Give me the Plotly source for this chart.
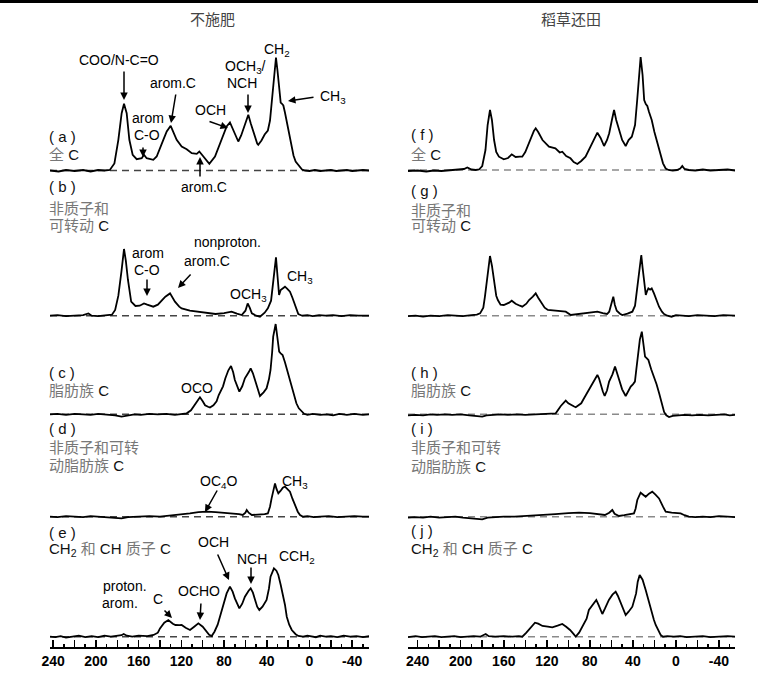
import plotly.graph_objects as go

W, H = 758, 679

# ---------------- data: chemical shift (ppm) and signal height ----------------
# (a) 不施肥 全C
a_ppm = [243, 235, 228, 220, 212, 205, 198, 192, 187, 182.7, 179, 175.9, 173.7, 171.2, 168.7, 165.6, 161.8, 157.1, 155, 152.5, 146.3,
         143.1, 136.9, 133.7, 130, 124.4, 119.7, 115, 110.3, 105.6, 103.2, 99.4, 93.8, 88.5, 82.3, 77.6, 74.5, 72, 69, 66.7, 64,
         61, 59, 57.3, 55, 52, 49, 48, 45, 42, 39, 37, 35, 33, 31.4, 30, 28.5, 27, 26, 24.5, 23,
         21, 19, 17, 15, 13, 11, 9, 7, 4, 0, -5, -10, -15, -20, -25, -30, -35, -40, -45, -50, -56]
a_int = [0, -1, 0.5, -0.5, 0.5, -1, 0.5, 0, 0.5, 7, 30.7, 57.3, 66.7, 57.3, 30.7, 15.7, 11.3, 12.3, 15.7, 12.3, 10.7,
         14, 30.7, 39, 44.7, 30.7, 24, 21.3, 17.3, 16.7, 19, 14, 6.7, 14, 30.7, 44, 48, 42, 33, 29, 35,
         45, 52, 55.7, 47, 36, 27, 25.7, 30, 36, 40, 50, 75, 100, 113, 100, 80, 68, 67, 65, 58,
         47, 36, 24, 15, 9, 6, 3, 1, 0, -0.5, 0.5, -0.5, 0, 0.5, -0.5, 0, 0.5, -0.5, 0, 0.5, 0]

# (b) 不施肥 非质子和可转动C
b_ppm = [243, 236, 228, 220, 212, 207, 204, 198, 190, 185, 182, 179, 176, 173.7, 172, 170, 167, 163, 159, 155,
         152, 146.3, 142, 139, 135, 130.6, 128, 126, 122, 119.7, 112, 102.6, 95, 88, 80, 73, 68, 63.5, 60, 57.9,
         56, 54, 50, 46.4, 42, 39, 36, 34, 32.5, 31.4, 30, 28.5, 27, 25, 23, 21, 18.3, 16, 14, 12,
         10.5, 7, 2, -3, -9, -15, -22, -30, -38, -46, -56]
b_int = [0, 0.5, -0.5, 0, 0.5, 2.3, 0, -0.5, 0.5, 1, 5.7, 20, 45, 66.7, 55, 35.7, 14, 9.7, 10, 12.3,
         11, 9, 11, 14, 19, 22.3, 18, 14, 9, 7.3, 5, 4, 2.5, 1.7, 2.5, 4, 2, 0.7, 5, 12.3,
         8, 2.3, 0, -1, 3, 7.3, 15, 32.3, 50, 58.3, 40, 20.7, 25.7, 27, 29, 27, 24, 18, 12.3, 5,
         1.7, 0, 0.5, -0.5, 0.5, 0, 0.5, -0.5, 0.5, 0, 0]

# (c) 不施肥 脂肪族C
c_ppm = [243, 236, 228, 220, 212, 205, 198, 190, 182, 176, 170, 164, 158, 150, 142, 134, 126, 120, 115, 111,
         108, 104.5, 102.6, 100, 97.8, 95, 93.2, 90, 87, 85, 81, 78.8, 76, 73.5, 71.5, 69.9, 68, 65.7, 63, 60.5,
         57, 55.1, 53, 51, 49, 46.4, 43, 40.2, 38, 36.5, 35, 34, 31.7, 30, 28.4, 27, 25.2, 23, 21, 19,
         17, 14, 12.3, 10, 7.3, 5, 2, -3, -10, -16, -22, -28, -35, -42, -50, -56]
c_int = [0, 0.5, -0.5, 0.5, 0, -0.5, 0.5, 0, -1, -2.3, -1, 0, -0.5, 0.5, 0, 0.5, -0.5, 0, 1, 4,
         9, 15, 17, 13, 9, 7.5, 6.7, 9, 13, 19.3, 28, 36, 44, 48.3, 42, 34.3, 28, 22.7, 28, 36,
         42, 46, 41, 34.3, 27, 18.3, 22, 26, 35, 44.3, 62, 77.7, 90.3, 78, 62.7, 61, 59.3, 52, 44.3, 38,
         31, 20, 11, 6, 2.7, 0.5, -0.5, 0.5, -0.5, 0, -1, 0.5, -0.5, 0.5, -0.5, 0]

# (d) 不施肥 非质子和可转动脂肪族C
d_ppm = [243, 236, 228, 220, 212, 205, 198, 190, 182, 176, 170, 160, 150, 140, 130, 120, 112, 104, 96, 88,
         80, 72, 66, 62.5, 60, 58.8, 57, 54, 48, 42, 39, 37, 35.5, 33.5, 32.3, 31, 29.2, 27, 25, 23,
         20, 18.3, 16, 13.6, 11, 8.9, 6, 2, -4, -10, -18, -26, -34, -42, -50, -56]
d_int = [0, -0.5, 0.5, 0, -0.5, 0.5, 0, -0.5, -1, -1.7, -0.5, 0, 0.5, 0, 1, 2, 3.3, 4.5, 5, 4.5,
         4, 3.3, 2.5, 1.7, 4, 6.7, 4, 1.7, 2, 2.5, 3.3, 10, 18.3, 30, 33.3, 28, 23.3, 26, 29, 30,
         27, 25, 18, 11.7, 5, 1.7, 0, 0.5, -0.5, 0, 0.5, -0.5, 0, 0.5, 0, 0]

# (e) 不施肥 CH2和CH质子C
e_ppm = [243, 238, 233, 228, 222, 216, 210, 204, 198, 192, 186, 180, 176, 174, 171, 166, 160, 152, 146, 142,
         140, 136, 132.2, 128, 125.5, 122, 119.7, 116, 111.9, 108, 104.1, 100, 97.8, 94, 91.6, 89, 86, 83.8, 80, 77.6,
         74.5, 72, 69.9, 68, 65.7, 63, 60.5, 57, 55.1, 53, 51, 49, 47, 44, 40.2, 38, 36.5, 33.3, 31, 29.2,
         27, 25, 23, 21.3, 19, 16.6, 13, 10.5, 6, 2, -2, -6, -10, -15, -20, -26, -32, -38, -44, -50, -56]
e_int = [0, -0.5, 0.5, -1, 0, 1, -0.5, 0.5, -0.5, 1, 0, 0.5, 1.5, 2.7, 1, 0, 1, 0.5, 1.7, 4,
         8.3, 14, 16.7, 13, 11.7, 11.5, 11.7, 9, 6.7, 10, 13.3, 10, 6.7, 2, 0.7, 5, 12, 20, 32, 43.3,
         50, 45, 38.3, 33, 28.3, 33, 40, 46, 48.3, 44, 36.7, 30, 26.7, 30, 36.7, 48, 60, 68.3, 66, 61.7,
         52, 43.3, 32, 20, 12, 6.7, 2.5, 0.7, 0, 1, 0, -0.5, 1, 0, 0.5, -0.5, 1, 0, 0.5, -0.5, 0.5]

# (f) 稻草还田 全C
f_ppm = [249, 240, 232, 225, 218, 210, 203, 197, 193.9, 190, 186, 183, 180, 177, 175, 172.8, 171, 169, 167, 164.5,
         160, 156, 152.6, 149, 145, 142.8, 140, 138, 135, 132, 130.3, 128, 124, 118, 112, 108, 105.6, 102, 98, 95,
         91.6, 88, 84, 81, 78, 76, 73, 70, 66.8, 64, 62, 59.5, 57.5, 55.5, 53, 50, 46.7, 44, 41, 38,
         36, 34, 32.8, 31, 29.5, 28, 26.6, 25, 22.5, 20, 17, 14, 12, 9.5, 7, 3, -1, -4, -5.9, -8,
         -12, -18, -25, -32, -40, -48, -55]
f_int = [-1, -0.5, -1.5, -0.5, -1, -0.5, 0, 1, 2.5, 0.5, 0, 0.5, 4, 20, 45, 60, 50, 30, 18, 13.3,
         10.7, 12, 15.7, 13, 13.3, 13.3, 18, 23, 32, 39, 41.7, 38, 30, 23.3, 21.7, 17.5, 18.3, 14, 11.7, 8,
         6, 9, 13.3, 20, 25, 30, 37.3, 32, 24, 30, 36.7, 50, 60, 50, 40, 30, 24, 30, 33.3, 45,
         70, 100, 113, 95, 70, 66, 64, 58, 50, 38, 26.7, 15, 6.7, 1.5, 0, -0.5, 0, 1.5, 4, 1,
         0, -0.5, 0.5, -0.5, 0, 0.5, -0.5]

# (g) 稻草还田 非质子和可转动C
g_ppm = [249, 242, 235, 228, 220, 212, 205, 198, 190, 185, 182, 179, 177.5, 175, 172.8, 171, 169, 167, 165.5, 163,
         160, 155, 152.6, 149, 145, 142.8, 139, 136.5, 133, 130.3, 128, 125.7, 122, 119, 110, 102.4, 97.7, 92, 87, 80,
         73, 68, 64, 62, 60, 58.2, 56.8, 55, 52, 49.8, 45, 40.5, 38, 35.8, 34, 32.2, 31, 29.7, 28, 27,
         25.6, 24, 22.5, 20.4, 18, 15.7, 13, 11, 8, 4, 0, -6, -12, -20, -28, -36, -44, -52, -55]
g_int = [-0.5, 0, -1, 0, -0.5, 0.5, 0, -0.5, 0.5, 1, 2.3, 8, 19, 40, 59.7, 50, 35.7, 20, 15.7, 11,
         10.7, 13, 15, 12, 10, 9, 12, 15.7, 19, 22.3, 18, 14, 8, 5.7, 4.5, 4, 0.7, 1.5, 2.3, 3,
         4, 2.5, 1.7, 4, 11, 19, 11, 5, 2, 0.7, 2, 4, 10, 29, 45, 60.7, 48, 35.7, 20.7, 24,
         27.3, 26, 27.3, 22.3, 15, 9, 4, 1.7, 0, -1, 0.5, 0, -0.5, 0.5, 0, -0.5, 0.5, 0, 0]

# (h) 稻草还田 脂肪族C
h_ppm = [249, 242, 235, 228, 222, 215, 208, 200, 192, 185, 180, 176, 170, 163, 156, 148, 140, 130, 120, 115,
         111.7, 107, 104, 102.4, 100, 97.7, 95, 93.1, 88, 85.4, 82, 79.2, 76, 73, 71.5, 69.8, 68, 66.2, 64, 62.1,
         59, 56.6, 55, 52.9, 50, 46.7, 44, 42, 40, 38.1, 36.8, 35, 33.5, 31.7, 30.5, 28.7, 27, 25.6, 23, 20.3,
         18, 15.6, 13.5, 11, 9, 6.4, 3, -2, -8, -15, -22, -30, -38, -45, -50, -55]
h_int = [-1, -0.5, -1, 0, -0.5, 0, -0.5, 0, -1, -1.5, -2.3, -1, -0.5, 0, -0.5, 0, -0.5, 0, 0.5, 0.5,
         1, 8.3, 12, 13.7, 11, 9.3, 8, 7, 11, 16, 22, 27.7, 34, 39.3, 36, 29.3, 23, 18.3, 24, 32.7,
         40, 47.7, 42, 32.7, 25, 18.3, 24, 27.7, 30, 32.7, 45, 61, 75, 82.7, 72, 57.7, 56, 54.3, 45, 37.7,
         30, 21, 11, 2.3, -1, -2.7, -1.5, -1, -0.5, -1, -0.5, -1, -0.5, 0, -1, -0.5]

# (i) 稻草还田 非质子和可转动脂肪族C
i_ppm = [249, 242, 235, 228, 220, 212, 205, 198, 190, 184, 180, 175, 168, 160, 150, 140, 130, 121, 112, 100,
         90, 80, 70, 66, 62, 59.1, 57, 52.9, 48, 42, 39, 37.5, 35.9, 32.8, 30, 28.1, 25, 22, 19, 15.7,
         12, 9.5, 4, -4.4, -8, -12, -18, -25, -32, -40, -48, -55]
i_int = [-1, -0.5, -1, 0, -1, -0.5, 0, -1, -1.5, -2, -2.7, -1, -0.5, 0, 0, 0.5, 1, 1.7, 2.5, 3.5,
         4, 3.5, 2.5, 1.7, 4, 6.7, 3, 0.7, 1.5, 2.5, 3.3, 8, 16.7, 24, 22, 20, 23, 25, 22, 18.3,
         10, 5, 4, 3.3, 1.5, 0, -0.5, 0, -0.5, 0.5, 0, -0.5]

# (j) 稻草还田 CH2和CH质子C
j_ppm = [249, 242, 236, 230, 224, 218, 212, 206, 200, 194, 188, 182, 178.5, 176.8, 174, 168, 160, 152, 146, 142.8,
         139, 135.5, 133, 131, 128, 124, 119, 114.9, 110, 105.6, 102, 98.4, 95, 93.1, 90, 87, 83, 80.9, 77, 74,
         72, 70, 68.4, 66, 62.3, 59, 56, 54, 51.7, 49, 46.7, 44, 40.5, 37, 35.5, 33.7, 31, 28.1, 25, 23.5,
         20.5, 18.8, 16, 14.2, 12, 8, 2, -4, -10, -18, -25, -32, -40, -48, -55]
j_int = [-0.5, 0.5, -0.5, 0, 0.5, -0.5, 0, 0.5, -0.5, 0, 0.5, 0, 2, 2.7, 0.5, 0, 0.5, 0, 0.5, 0,
         4, 8.3, 12, 14, 13, 10.7, 10, 9.3, 11, 12.7, 10, 6.7, 2.5, 0, 4, 10, 18, 26.7, 33, 36.7,
         32, 26, 22.7, 28, 36.7, 42, 45, 41, 35, 28, 21.7, 25, 30, 43.3, 55, 61.7, 57, 46.7, 34, 26.7,
         17, 11.7, 5, 1.7, 0, 0.5, 0, 0.5, -0.5, 0, 0.5, -0.5, 0, 0.5, 0]

# axis ticks
tick_vals = [240, 220, 200, 180, 160, 140, 120, 100, 80, 60, 40, 20, 0, -20, -40]
tick_text = ["240", "", "200", "", "160", "", "120", "", "80", "", "40", "", "0", "", "-40"]

col_titles = ["不施肥", "稻草还田"]

# ---------------- figure ----------------
SANS = "Liberation Sans, Arial, sans-serif"
LAB = "Liberation Sans, Noto Sans CJK SC, sans-serif"
CJK = "Noto Sans CJK SC, sans-serif"

spectra = [("a", a_ppm, a_int), ("b", b_ppm, b_int), ("c", c_ppm, c_int), ("d", d_ppm, d_int),
           ("e", e_ppm, e_int), ("f", f_ppm, f_int), ("g", g_ppm, g_int), ("h", h_ppm, h_int),
           ("i", i_ppm, i_int), ("j", j_ppm, j_int)]
# column, baseline (pixel row)
panel_pos = {"a": (0, 170.5), "b": (0, 315.7), "c": (0, 414.3), "d": (0, 516.7), "e": (0, 636.7),
             "f": (1, 170.0), "g": (1, 315.7), "h": (1, 414.3), "i": (1, 516.7), "j": (1, 636.7)}

fig = go.Figure()
for n, (key, xs, ys) in enumerate(spectra, start=1):
    assert len(xs) == len(ys), key
    col, base = panel_pos[key]
    xa = "x" if col == 0 else "x2"
    ya = "y" if n == 1 else f"y{n}"
    fig.add_trace(go.Scatter(x=xs, y=ys, xaxis=xa, yaxis=ya, mode="lines",
                             line=dict(color="black", width=1.8), hoverinfo="skip", showlegend=False))
    fig.update_layout(**{("yaxis" if n == 1 else f"yaxis{n}"): dict(
        domain=[1 - (base + 12) / H, 1 - (base - 128) / H], range=[-12, 128],
        visible=False, anchor=xa, fixedrange=True, automargin=False)})
    fig.add_shape(type="line", xref=f"{xa} domain", yref=ya, x0=0, x1=1, y0=0, y1=0, layer="below",
                  line=dict(color="#444" if col == 0 else "#8a8a8a", width=1.4, dash="7px,5px"))


def xaxis_cfg(px0, px1, rng):
    return dict(domain=[px0 / W, px1 / W], range=rng, anchor="free", position=1 - 648 / H,
                automargin=False,
                showline=True, linewidth=2, linecolor="black", showgrid=False, zeroline=False,
                ticks="inside", ticklen=7, tickwidth=1.5, tickcolor="black",
                tickmode="array", tickvals=tick_vals, ticktext=tick_text,
                tickfont=dict(family=SANS, size=14, color="black", weight="bold"),
                minor=dict(ticks="inside", ticklen=3, tickwidth=1.5, tickcolor="black",
                           tickmode="linear", tick0=0, dtick=10, showgrid=False),
                fixedrange=True)


fig.update_layout(
    width=W, height=H, margin=dict(l=0, r=0, t=0, b=0, autoexpand=False),
    template="none",
    paper_bgcolor="white", plot_bgcolor="rgba(0,0,0,0)",
    xaxis=xaxis_cfg(50, 369, [243, -55.7]),
    xaxis2=xaxis_cfg(408, 735, [249, -54.9]),
    showlegend=False,
)

# top rule
fig.add_shape(type="line", xref="paper", yref="paper", x0=0, x1=1, y0=1 - 1.5 / H, y1=1 - 1.5 / H,
              line=dict(color="black", width=3))


def label(text, px, py, size=14, anchor="center", family=SANS, color="#000"):
    fig.add_annotation(xref="paper", yref="paper", x=px / W, y=1 - py / H, text=text, showarrow=False,
                       xanchor=anchor, yanchor="middle", borderpad=0,
                       font=dict(family=family, size=size, color=color))


def arrow(tx, ty, hx, hy):
    fig.add_annotation(xref="paper", yref="paper", x=hx / W, y=1 - hy / H, ax=tx - hx, ay=ty - hy,
                       axref="pixel", ayref="pixel", text="", showarrow=True, arrowhead=2,
                       arrowsize=1, arrowwidth=1.5, arrowcolor="black", standoff=0)


# column titles
label(col_titles[0], 212, 18, size=15, family=CJK, color="#444")
label(col_titles[1], 571, 18, size=15, family=CJK, color="#444")

G = '<span style="color:#777">'
E = '</span>'
panel_text = {
    "a": [("( a )", 137), (G + "全" + E + " C", 155)],
    "b": [("( b )", 186), (G + "非质子和" + E, 208), (G + "可转动" + E + " C", 226)],
    "c": [("( c )", 372), (G + "脂肪族" + E + " C", 391)],
    "d": [("( d )", 428), (G + "非质子和可转" + E, 447), (G + "动脂肪族" + E + " C", 465)],
    "e": [("( e )", 532), ("CH<sub>2</sub> " + G + "和" + E + " CH " + G + "质子" + E + " C", 549)],
    "f": [("( f )", 135), (G + "全" + E + " C", 155)],
    "g": [("( g )", 190), (G + "非质子和" + E, 210), (G + "可转动" + E + " C", 226)],
    "h": [("( h )", 372), (G + "脂肪族" + E + " C", 391)],
    "i": [("( i )", 428), (G + "非质子和可转" + E, 447), (G + "动脂肪族" + E + " C", 466)],
    "j": [("( j )", 530), ("CH<sub>2</sub> " + G + "和" + E + " CH " + G + "质子" + E + " C", 549)],
}
for key, lines in panel_text.items():
    col = panel_pos[key][0]
    x0 = 48 if col == 0 else 410
    for t, py in lines:
        label(t, x0, py, size=15, anchor="left", family=LAB, color="#111")

# peak assignments (left column)
peak_labels = [
    ("COO/N-C=O", 119, 60), ("arom", 148, 118), ("C-O", 147, 135), ("arom.C", 173, 83),
    ("OCH", 210, 110), ("OCH<sub>3</sub>/", 245, 67), ("NCH", 242, 83), ("CH<sub>2</sub>", 277, 50),
    ("CH<sub>3</sub>", 333, 97), ("arom.C", 204, 187),
    ("arom", 148, 253), ("C-O", 147, 270), ("nonproton.", 227, 242), ("arom.C", 207, 261),
    ("OCH<sub>3</sub>", 248, 295), ("CH<sub>3</sub>", 300, 277),
    ("OCO", 197, 388), ("OC<sub>4</sub>O", 218, 482), ("CH<sub>3</sub>", 295, 482),
    ("OCH", 213, 542), ("NCH", 252, 559), ("CCH<sub>2</sub>", 297, 557),
    ("proton.", 125, 586), ("arom.", 120, 603), ("C", 158, 599), ("OCHO", 199, 591),
]
for t, px, py in peak_labels:
    label(t, px, py)

arrows = [
    (124, 70, 124, 100), (143, 146, 143, 157), (176, 93, 171, 123), (208, 121, 228, 128),
    (248, 93, 248, 113), (315, 97, 288, 101), (200, 178, 200, 157),
    (147, 278, 147, 296), (192, 273, 178, 288), (218, 489, 205, 512),
    (217, 553, 229, 580), (251, 566, 251, 584), (163, 609, 172, 618), (201, 602, 200, 620),
]
for a in arrows:
    arrow(*a)

fig.write_html("out.html", config={"displayModeBar": False, "staticPlot": True},
               post_script="document.body.style.margin='0px';")
